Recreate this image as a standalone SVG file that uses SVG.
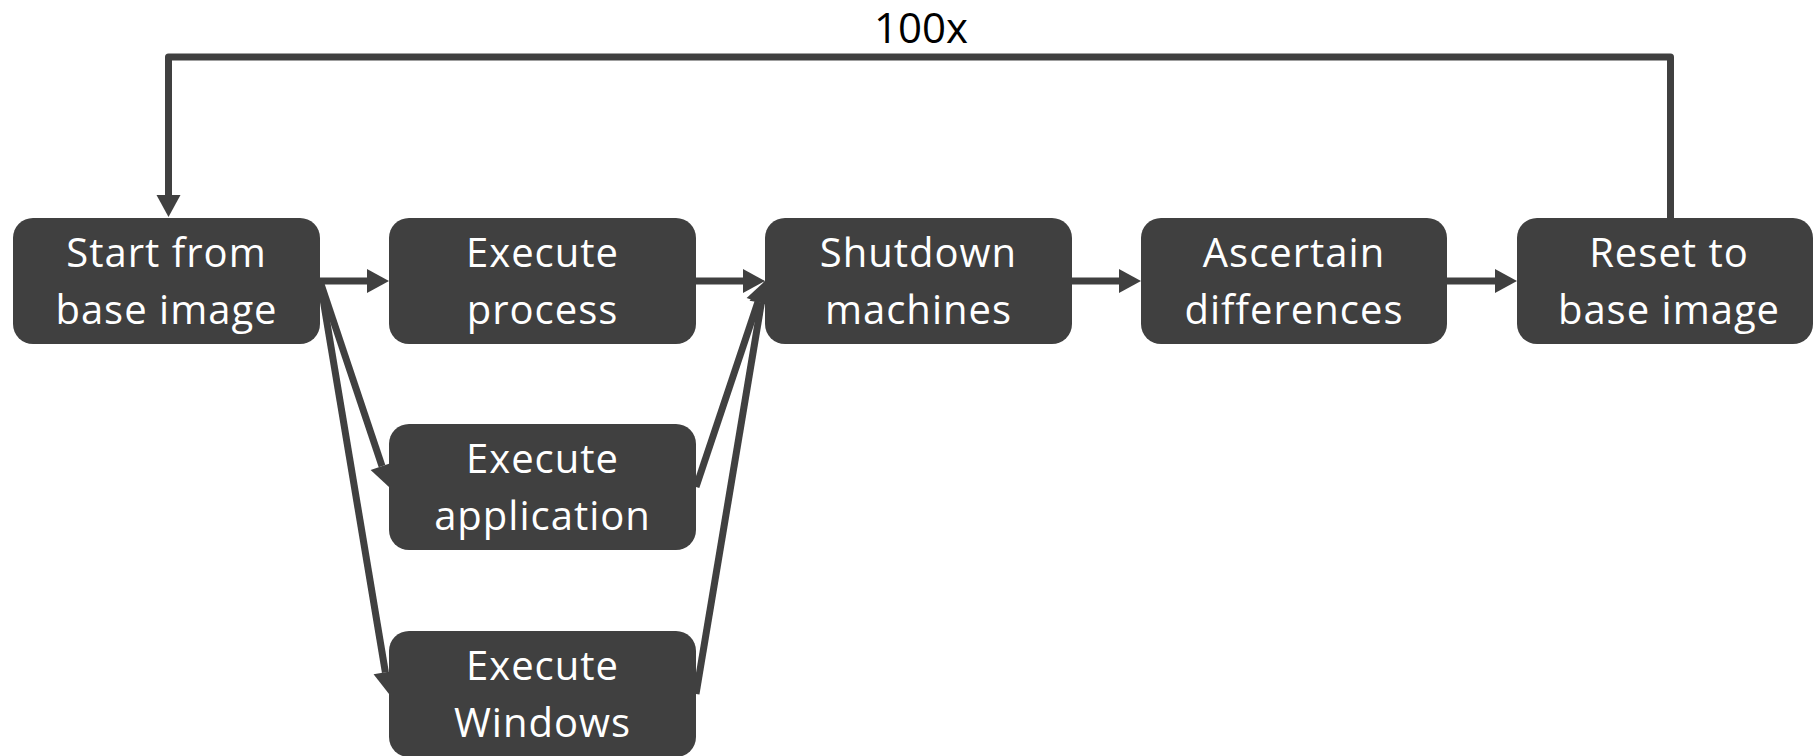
<svg xmlns="http://www.w3.org/2000/svg" width="1814" height="756" viewBox="0 0 1814 756">
  <defs>
    <marker id="arrow" markerUnits="userSpaceOnUse" markerWidth="22" markerHeight="24" refX="0" refY="12" orient="auto" overflow="visible">
      <path d="M0,0 L22,12 L0,24 z" fill="#404040"/>
    </marker>
    <style>
      .box { fill: #404040; }
      .label { fill: #ffffff; font-family: "Open Sans", "Noto Sans", sans-serif; font-size: 40px; letter-spacing: 1px; text-anchor: middle; }
      .edge { fill: none; stroke: #404040; stroke-width: 7; stroke-linejoin: round; }
      .loop-label { fill: #000000; font-family: "Open Sans", "Noto Sans", sans-serif; font-size: 42px; text-anchor: middle; }
    </style>
  </defs>
  <rect width="1814" height="756" fill="#ffffff"/>

  <!-- connectors: loop-back edge on top, then the flow arrows -->
  <g id="connectors">
    <path class="edge" d="M1670.5,218 V57 H168.5 V195" marker-end="url(#arrow)"/>
    <text class="loop-label" x="921" y="43">100x</text>
    <path class="edge" d="M320,281 H367" marker-end="url(#arrow)"/>
    <path class="edge" d="M696,281 H743" marker-end="url(#arrow)"/>
    <path class="edge" d="M1072,281 H1119" marker-end="url(#arrow)"/>
    <path class="edge" d="M1447,281 H1495" marker-end="url(#arrow)"/>
    <path class="edge" d="M320,281 L382,466.1" marker-end="url(#arrow)"/>
    <path class="edge" d="M320,281 L385.4,672.3" marker-end="url(#arrow)"/>
    <path class="edge" d="M696,487 L758,301.9" marker-end="url(#arrow)"/>
    <path class="edge" d="M696,694 L761.4,302.7" marker-end="url(#arrow)"/>
  </g>

  <!-- nodes -->
  <g id="start">
    <rect class="box" x="13" y="218" width="307" height="126" rx="20"/>
    <text class="label" x="166.5" y="267">Start from</text>
    <text class="label" x="166.5" y="324">base image</text>
  </g>
  <g id="exec-process">
    <rect class="box" x="389" y="218" width="307" height="126" rx="20"/>
    <text class="label" x="542.5" y="267">Execute</text>
    <text class="label" x="542.5" y="324">process</text>
  </g>
  <g id="exec-application">
    <rect class="box" x="389" y="424" width="307" height="126" rx="20"/>
    <text class="label" x="542.5" y="473">Execute</text>
    <text class="label" x="542.5" y="530">application</text>
  </g>
  <g id="exec-windows">
    <rect class="box" x="389" y="631" width="307" height="126" rx="20"/>
    <text class="label" x="542.5" y="680">Execute</text>
    <text class="label" x="542.5" y="737">Windows</text>
  </g>
  <g id="shutdown">
    <rect class="box" x="765" y="218" width="307" height="126" rx="20"/>
    <text class="label" x="918.5" y="267">Shutdown</text>
    <text class="label" x="918.5" y="324">machines</text>
  </g>
  <g id="ascertain">
    <rect class="box" x="1141" y="218" width="306" height="126" rx="20"/>
    <text class="label" x="1294" y="267">Ascertain</text>
    <text class="label" x="1294" y="324">differences</text>
  </g>
  <g id="reset">
    <rect class="box" x="1517" y="218" width="296" height="126" rx="20"/>
    <text class="label" x="1669" y="267">Reset to</text>
    <text class="label" x="1669" y="324">base image</text>
  </g>
</svg>
